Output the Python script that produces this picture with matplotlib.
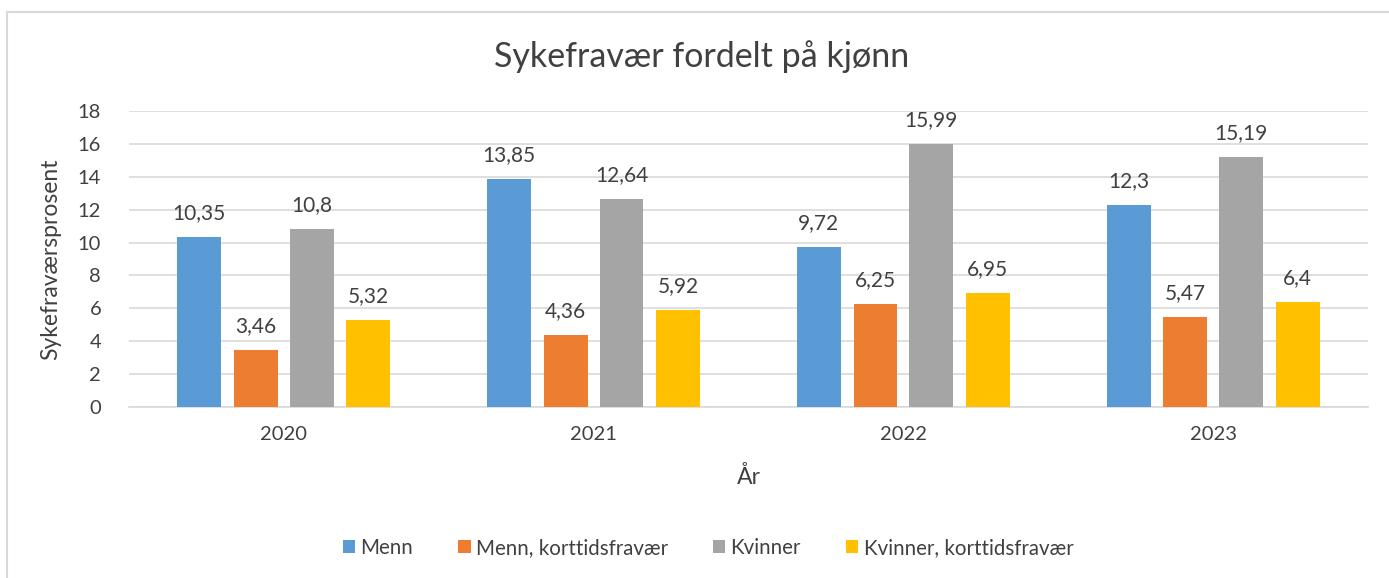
import matplotlib.pyplot as plt
import numpy as np
from matplotlib.lines import Line2D

years = ['2020', '2021', '2022', '2023']
menn = [10.35, 13.85, 9.72, 12.3]
menn_kort = [3.46, 4.36, 6.25, 5.47]
kvinner = [10.8, 12.64, 15.99, 15.19]
kvinner_kort = [5.32, 5.92, 6.95, 6.4]
series = ['Menn', 'Menn, korttidsfravær', 'Kvinner', 'Kvinner, korttidsfravær']
colors = ['#5b9bd5', '#ed7d31', '#a5a5a5', '#ffc000']

plt.rcParams['font.family'] = ['Lato', 'DejaVu Sans']
txtcol = '#404040'

W, H = 1389, 578
fig = plt.figure(figsize=(W/100, H/100), dpi=100)
ax = fig.add_axes([129/W, 1-407/H, (1368-129)/W, (407-111)/H])

x = np.arange(len(years))
width = 0.142
offsets = [-0.273, -0.09, 0.09, 0.273]
for vals, lab, col, off in zip([menn, menn_kort, kvinner, kvinner_kort], series, colors, offsets):
	bars = ax.bar(x + off, vals, width, color=col, label=lab, zorder=3)
	ax.bar_label(bars, labels=[str(v).replace('.', ',') for v in vals], padding=10,
		fontsize=15, color=txtcol)

ax.set_xlim(-0.5, 3.5)
ax.set_ylim(0, 18)
ax.set_yticks(range(0, 19, 2))
ax.set_xticks(x)
ax.set_xticklabels(years)
ax.grid(axis='y', color='#d9d9d9', linewidth=1.2, zorder=0)
for s in ['top', 'right', 'left']:
	ax.spines[s].set_visible(False)
ax.spines['bottom'].set_color('#d9d9d9')
ax.spines['bottom'].set_linewidth(1.2)
ax.tick_params(length=0, labelsize=14.5, labelcolor=txtcol)
ax.tick_params(axis='y', pad=20)
ax.tick_params(axis='x', pad=14)

ax.set_ylabel('Sykefraværsprosent', fontsize=16.5, color=txtcol, labelpad=12)
ax.set_xlabel('År', fontsize=16.5, color=txtcol, labelpad=16)
fig.text(702/W, 1-57/H, 'Sykefravær fordelt på kjønn', fontsize=24.5, color=txtcol,
	ha='center', va='center')

fig.legend(loc='center', bbox_to_anchor=(708/W, 1-548/H), ncol=4, frameon=False,
	fontsize=14.8, labelcolor=txtcol, handlelength=0.6, handleheight=0.6,
	handletextpad=0.25, columnspacing=2.2)

# chart area border
fig.add_artist(Line2D([7.5/W, 7.5/W], [0, 1-11.5/H], color='#d9d9d9', linewidth=1.5))
fig.add_artist(Line2D([7.5/W, 1], [1-11.5/H, 1-11.5/H], color='#d9d9d9', linewidth=1.5))

fig.savefig('out.png', dpi=100)
